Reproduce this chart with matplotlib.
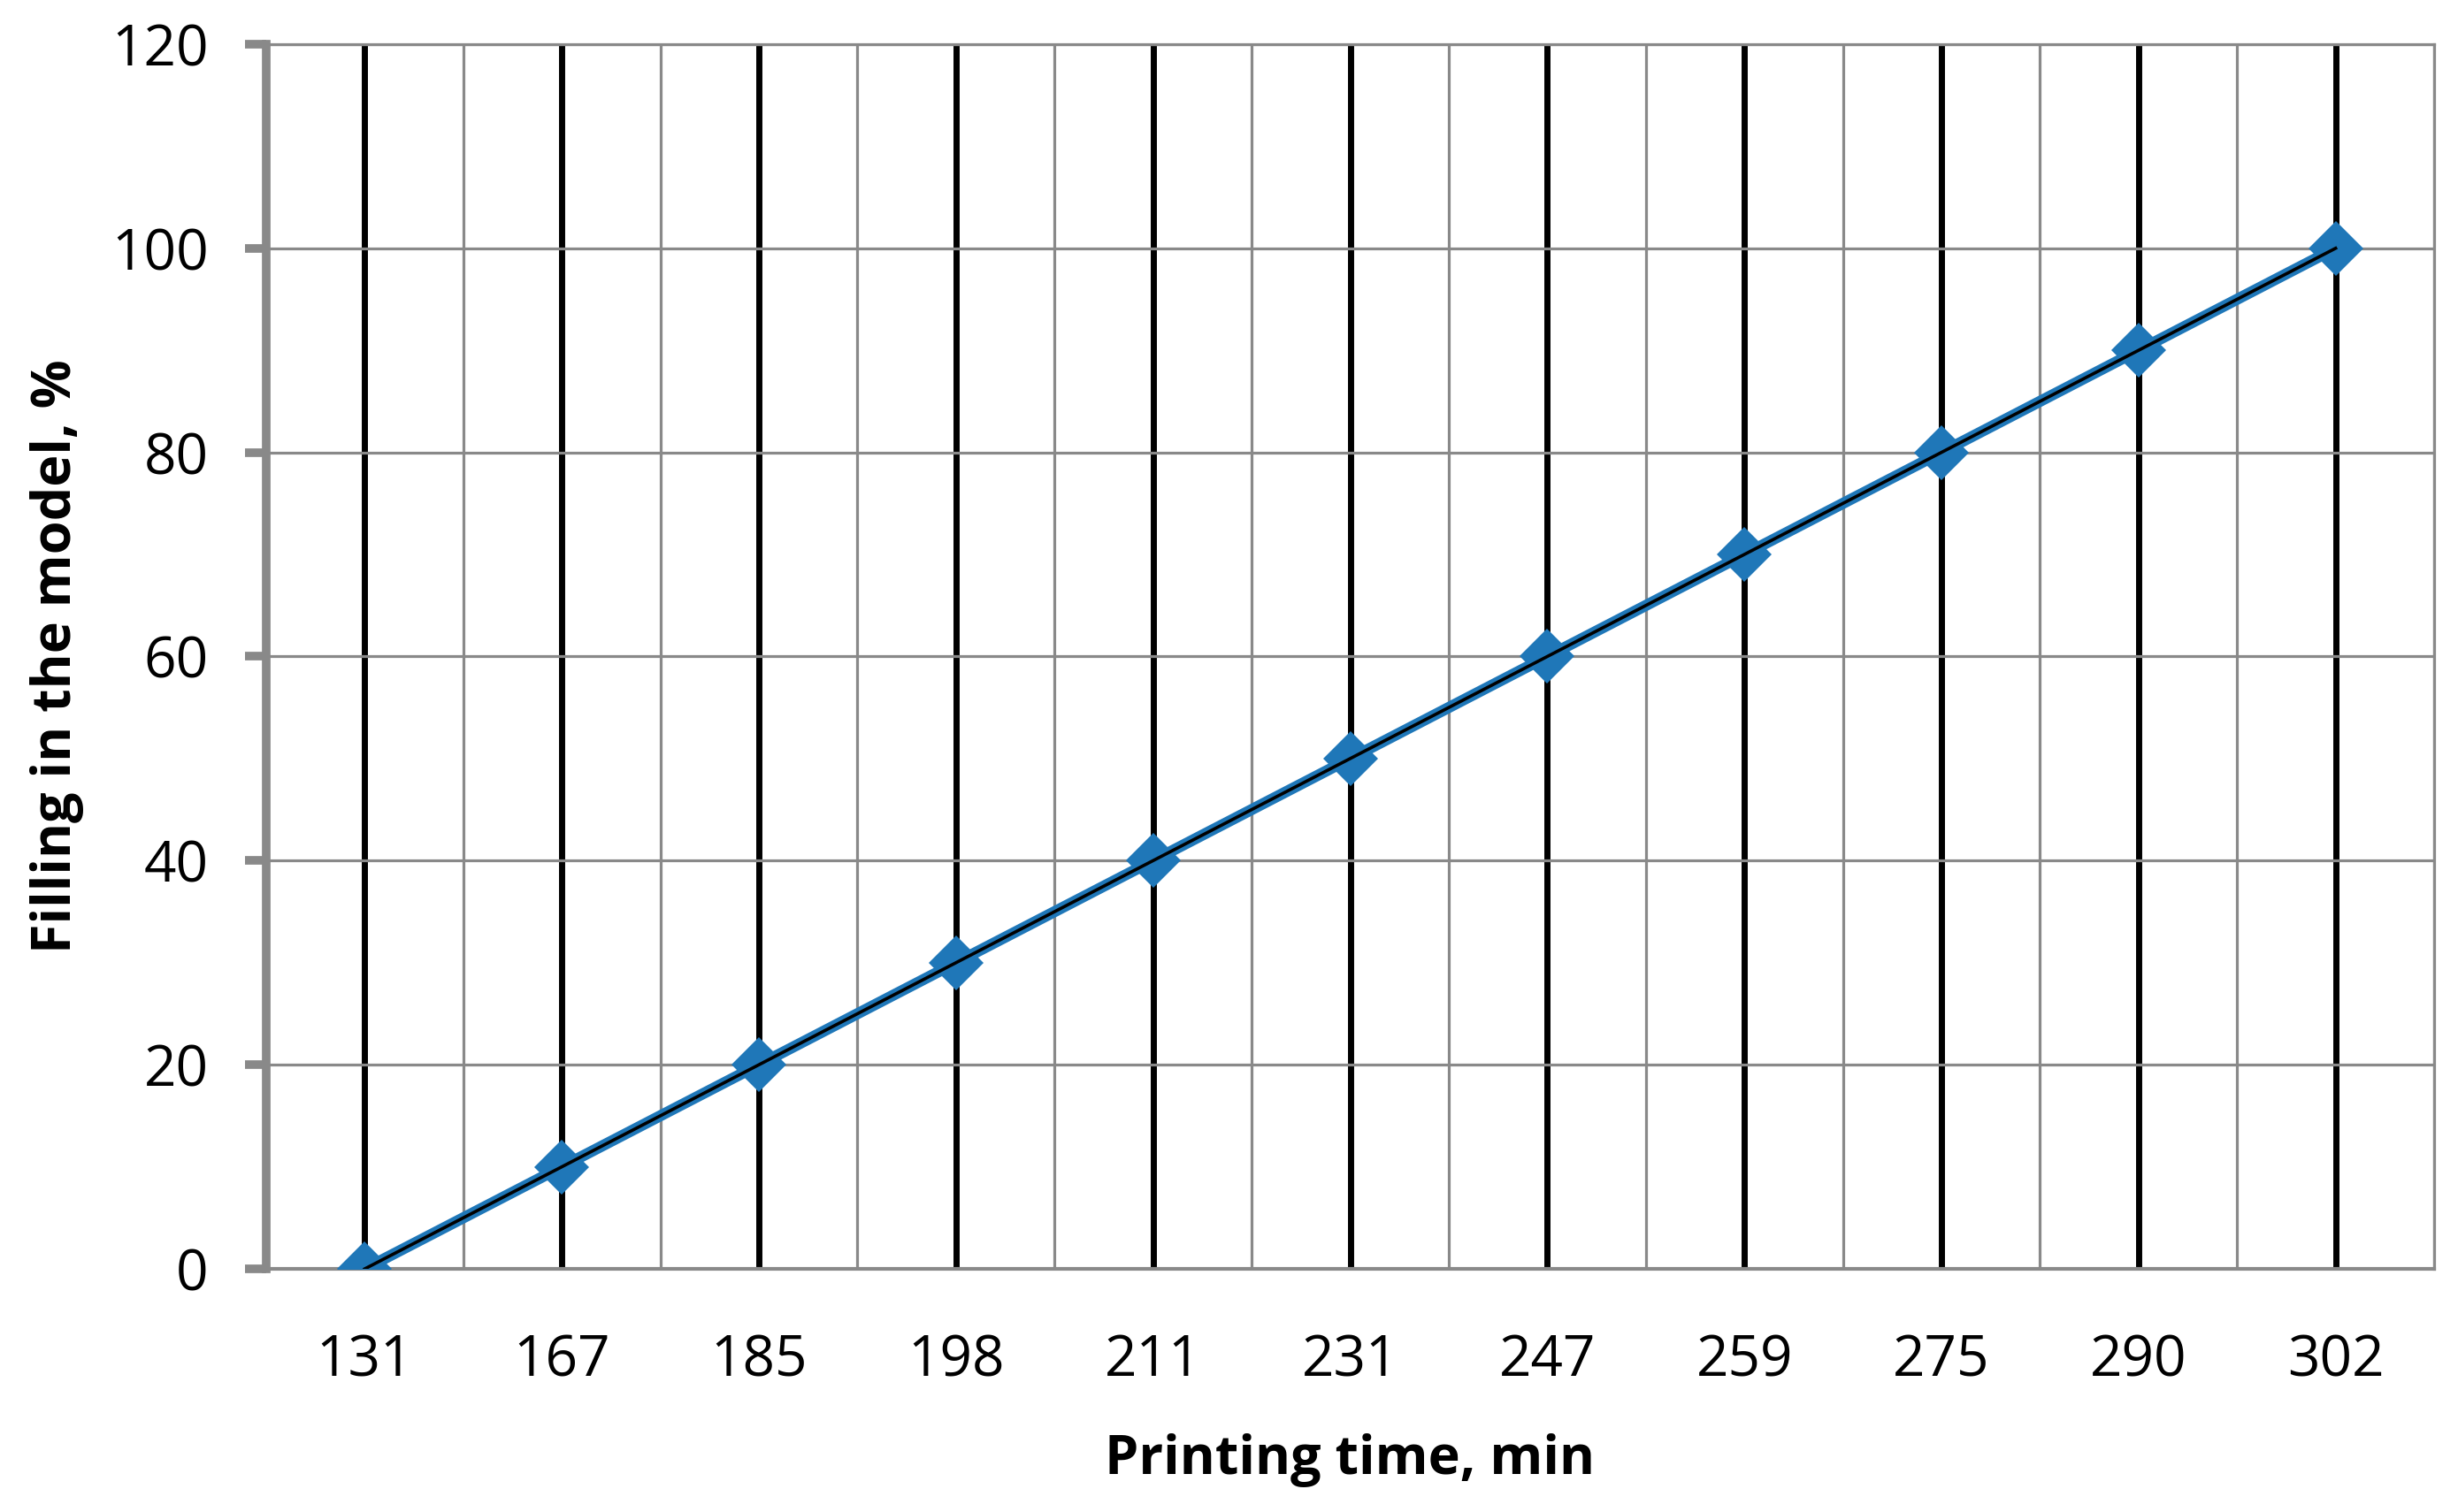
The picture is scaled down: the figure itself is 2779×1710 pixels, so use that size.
import numpy as np
import matplotlib
matplotlib.use("Agg")
import matplotlib.pyplot as plt
from matplotlib.ticker import MultipleLocator, FixedLocator

# data
printing_time = ["131", "167", "185", "198", "211", "231", "247", "259", "275", "290", "302"]
filling = [0, 10, 20, 30, 40, 50, 60, 70, 80, 90, 100]

plt.rcParams['font.family'] = ['Open Sans', 'DejaVu Sans']

GRAY = '#898989'
BLUE = '#1F77B8'

fig = plt.figure(figsize=(27.79, 17.10), dpi=100)
ax = fig.add_axes([0.1083, 0.1608, 0.8820, 0.8100])

x = np.arange(len(printing_time))
ax.plot(x, filling, color=BLUE, lw=9, marker='D', markersize=32,
        markeredgewidth=0, zorder=3)

# linear trend line
k, b = np.polyfit(x, filling, 1)
ax.plot(x, k * x + b, color='black', lw=2.6, zorder=4)

ax.set_xlim(-0.5, len(printing_time) - 0.5)
ax.set_ylim(0, 120)
ax.set_xticks(x)
ax.set_xticklabels(printing_time)
ax.xaxis.set_minor_locator(FixedLocator(np.arange(-0.5, len(printing_time), 1.0)))
ax.yaxis.set_major_locator(MultipleLocator(20))

# grid: black at categories, gray between, gray horizontal
ax.grid(which='major', axis='x', color='black', lw=5, zorder=1)
ax.grid(which='minor', axis='x', color=GRAY, lw=2.3, zorder=1)
ax.grid(which='major', axis='y', color=GRAY, lw=2.3, zorder=1)
ax.set_axisbelow(True)

for side in ['top', 'right']:
    ax.spines[side].set_color(GRAY)
    ax.spines[side].set_linewidth(2.3)
ax.spines['left'].set_color(GRAY)
ax.spines['left'].set_linewidth(7)
ax.spines['bottom'].set_color(GRAY)
ax.spines['bottom'].set_linewidth(3)

ax.tick_params(axis='x', which='both', length=0, pad=52, labelsize=46)
ax.tick_params(axis='y', which='major', length=17, width=7, color=GRAY,
               pad=30, labelsize=46)

ax.set_xlabel('Printing time, min', fontsize=44, fontweight='bold', labelpad=36)
ax.set_ylabel('Filling in the model, %', fontsize=44, fontweight='bold', labelpad=22)

fig.savefig('out.png', dpi=100)
